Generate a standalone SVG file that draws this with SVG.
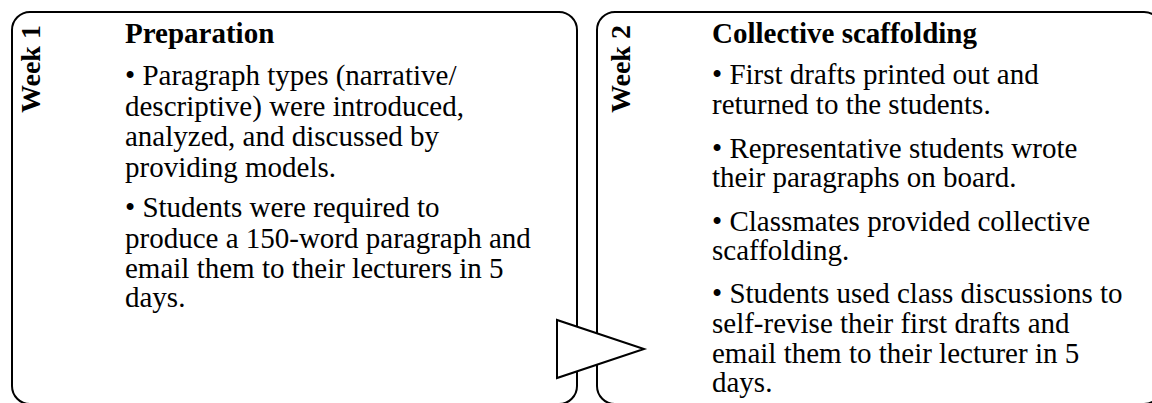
<svg xmlns="http://www.w3.org/2000/svg" width="1152" height="403" viewBox="0 0 1152 403">
<style>
.box{fill:#fff;stroke:#000;stroke-width:2}
.t{font-family:"Liberation Serif","Times New Roman",serif;font-size:29px;fill:#000}
.b{font-weight:bold}
.wk{font-family:"Liberation Serif","Times New Roman",serif;font-size:28px;font-weight:bold;fill:#000}
</style>
<rect width="1152" height="403" fill="#fff"/>
<g id="week1">
<rect class="box" x="12" y="12" width="565" height="392" rx="18" ry="18"/>
<text class="wk" transform="translate(40,69) rotate(-90)" text-anchor="middle">Week 1</text>
<text class="t b" x="125" y="43">Preparation</text>
<text class="t" x="125" y="85">• Paragraph types (narrative/</text>
<text class="t" x="125" y="116">descriptive) were introduced,</text>
<text class="t" x="125" y="146">analyzed, and discussed by</text>
<text class="t" x="125" y="177">providing models.</text>
<text class="t" x="125" y="217">• Students were required to</text>
<text class="t" x="125" y="248">produce a 150-word paragraph and</text>
<text class="t" x="125" y="278">email them to their lecturers in 5</text>
<text class="t" x="125" y="307">days.</text>
</g>
<g id="week2">
<rect class="box" x="597" y="12" width="565" height="392" rx="18" ry="18"/>
<text class="wk" transform="translate(630,69) rotate(-90)" text-anchor="middle">Week 2</text>
<text class="t b" x="712" y="43">Collective scaffolding</text>
<text class="t" x="712" y="84">• First drafts printed out and</text>
<text class="t" x="712" y="114">returned to the students.</text>
<text class="t" x="712" y="158">• Representative students wrote</text>
<text class="t" x="712" y="187">their paragraphs on board.</text>
<text class="t" x="712" y="231">• Classmates provided collective</text>
<text class="t" x="712" y="260">scaffolding.</text>
<text class="t" x="712" y="303">• Students used class discussions to</text>
<text class="t" x="712" y="333">self-revise their first drafts and</text>
<text class="t" x="712" y="363">email them to their lecturer in 5</text>
<text class="t" x="712" y="392">days.</text>
</g>
<g id="connectors">
<polygon class="box" points="557,320 557,378 644,349"/>
</g>
</svg>
